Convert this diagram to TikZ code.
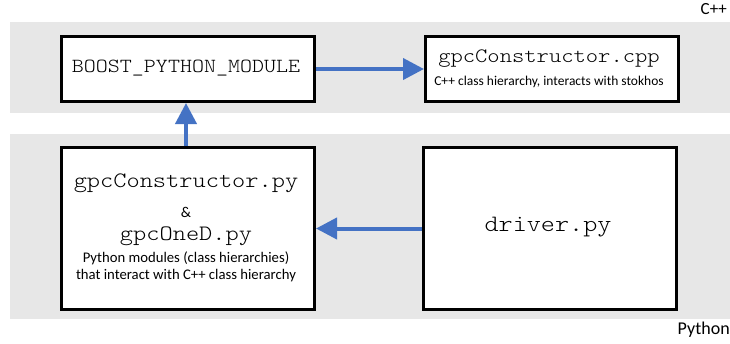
\documentclass[tikz,border=0pt]{standalone}
\usepackage{fontspec}
\setmainfont{Carlito}
\newfontfamily\cour[FakeStretch=1.143]{Latin Modern Mono Light}
\usetikzlibrary{arrows.meta}
\definecolor{band}{RGB}{231,231,231}
\definecolor{arrowblue}{RGB}{68,114,196}
\begin{document}
\begin{tikzpicture}[x=1pt,y=-1pt,
  boxnode/.style={draw=black,line width=3pt,fill=white,anchor=north west,inner sep=0pt},
  conn/.style={draw=arrowblue,line width=4pt,-{Triangle[length=21pt,width=21pt]}},
  txt/.style={inner sep=0pt,anchor=center}]
\useasboundingbox (0,0) rectangle (730,343);
\fill[white] (0,0) rectangle (730,343);
\fill[band] (10,22) rectangle (730,113);
\fill[band] (10,134) rectangle (730,319);
\node[boxnode,minimum width=253pt,minimum height=65pt] (boost) at (60,35) {};
\node[boxnode,minimum width=253pt,minimum height=65pt] (cpp) at (424,35) {};
\node[boxnode,minimum width=253pt,minimum height=162pt] (pymod) at (60,146) {};
\node[boxnode,minimum width=253pt,minimum height=162pt] (driver) at (422,146) {};
\node[txt] (tboost) at (186,68) {\cour\fontsize{20}{21}\selectfont BOOST\_PYTHON\_MODULE};
\node[txt] (tcpp) at (549,59) {\cour\fontsize{20.5}{22}\selectfont gpcConstructor.cpp};
\node[txt] (scpp) at (549,82) {\fontsize{13.5}{15}\selectfont C++ class hierarchy, interacts with stokhos};
\node[txt] (tpy1) at (186,183) {\cour\fontsize{22}{24}\selectfont gpcConstructor.py};
\node[txt] (tamp) at (186,212) {\fontsize{15}{17}\selectfont \&};
\node[txt] (tpy2) at (186,236) {\cour\fontsize{22}{24}\selectfont gpcOneD.py};
\node[txt] (spy1) at (186,258) {\fontsize{14.7}{16}\selectfont Python modules (class hierarchies)};
\node[txt] (spy2) at (186,276) {\fontsize{14.7}{16}\selectfont that interact with C++ class hierarchy};
\node[txt] (tdrv) at (548,227) {\cour\fontsize{23.5}{25}\selectfont driver.py};
\node[txt,anchor=north east] (lcpp) at (727,3) {\fontsize{17}{19}\selectfont C++};
\node[txt,anchor=north east] (lpy) at (730,322) {\fontsize{18}{20}\selectfont Python};
\draw[conn] (boost.east) -- (cpp.west);
\draw[conn] (pymod.north -| tboost) -- (boost.south -| tboost);
\draw[conn] (driver.west) -- (driver.west -| pymod.east);
\end{tikzpicture}
\end{document}
